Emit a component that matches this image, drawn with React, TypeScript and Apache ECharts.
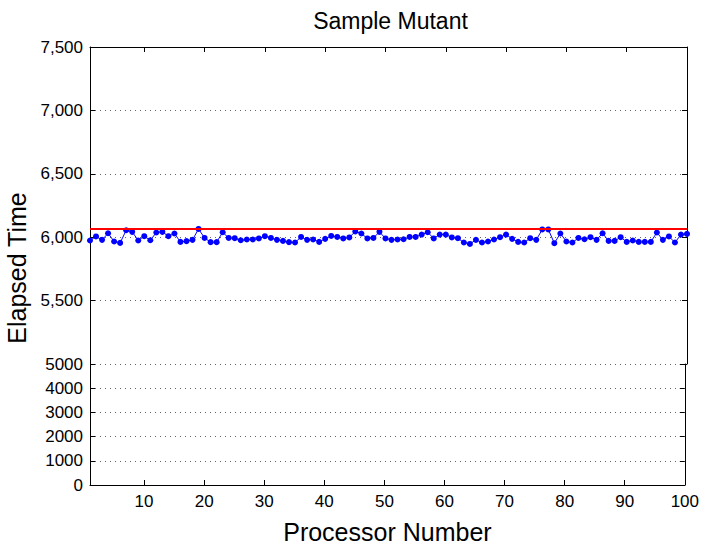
import React, { useEffect, useRef } from "react";
import * as echarts from "echarts";

const processorNumbers: number[] = Array.from({ length: 100 }, (_, i) => i + 1);

const elapsedTimes: number[] = [
  5974, 6006, 5979, 6031, 5966, 5955, 6055, 6042, 5974, 6008,
  5976, 6037, 6042, 6008, 6029, 5963, 5969, 5979, 6065, 5994,
  5961, 5961, 6039, 5994, 5992, 5976, 5982, 5982, 5990, 6008,
  5994, 5979, 5971, 5961, 5958, 6002, 5979, 5982, 5963, 5987,
  6010, 6002, 5990, 5998, 6045, 6029, 5990, 5994, 6042, 5990,
  5979, 5982, 5984, 6002, 6002, 6021, 6039, 5990, 6021, 6021,
  5998, 5992, 5958, 5947, 5979, 5958, 5966, 5982, 6000, 6021,
  5987, 5963, 5958, 5992, 5979, 6061, 6061, 5953, 6029, 5966,
  5958, 5994, 5984, 6000, 5979, 6031, 5971, 5971, 6000, 5963,
  5974, 5963, 5963, 5963, 6037, 5979, 6006, 5958, 6021, 6026,
];

const xTickValues: number[] = [10, 20, 30, 40, 50, 60, 70, 80, 90, 100];
const upperYTicks: number[] = [5500, 6000, 6500, 7000, 7500];
const lowerYTicks: number[] = [0, 1000, 2000, 3000, 4000, 5000];

const FONT = "'Liberation Sans', Arial, Helvetica, sans-serif";

export default function App() {
  const ref = useRef<HTMLDivElement>(null);

  useEffect(() => {
    if (!ref.current) return;
    const chart = echarts.init(ref.current, undefined, { renderer: "svg" });
    const maxVal = Math.max(...elapsedTimes);
    const gridLeft = 90;
    const gridRight = 15;
    const upperTop = 47;
    const upperHeight = 317;
    const lowerTop = upperTop + upperHeight;
    const lowerHeight = 125;

    const dotted = { type: [1, 4] as any, color: "#666", width: 1 };
    const axisLine = { show: true, lineStyle: { color: "#000", width: 1 } };
    const tick = { show: true, inside: true, length: 5, lineStyle: { color: "#000", width: 1 } };

    chart.setOption({
      animation: false,
      backgroundColor: "#fff",
      textStyle: { fontFamily: FONT },
      title: {
        text: "Sample Mutant",
        left: gridLeft + (702 - gridLeft - gridRight) / 2 - 3,
        textAlign: "center",
        top: 4,
        textStyle: { fontFamily: FONT, fontSize: 23, fontWeight: "normal", color: "#000" },
      },
      graphic: [
        {
          type: "text",
          x: 17,
          y: upperTop + (upperHeight + lowerHeight) / 2,
          rotation: Math.PI / 2,
          style: {
            text: "Elapsed Time",
            fontFamily: FONT,
            fontSize: 25,
            fill: "#000",
            textAlign: "center",
            textVerticalAlign: "middle",
          },
        },
      ],
      grid: [
        { left: gridLeft, right: gridRight, top: upperTop, height: upperHeight, containLabel: false },
        { left: gridLeft, right: gridRight, top: lowerTop, height: lowerHeight, containLabel: false },
      ],
      xAxis: [
        {
          type: "value",
          gridIndex: 0,
          position: "top",
          min: 1,
          max: 100,
          axisLine,
          axisTick: { ...tick, customValues: xTickValues },
          axisLabel: { show: false },
          splitLine: { show: false },
        },
        {
          type: "value",
          gridIndex: 1,
          position: "bottom",
          min: 1,
          max: 100,
          axisLine,
          axisTick: { ...tick, customValues: xTickValues },
          axisLabel: {
            customValues: xTickValues,
            fontFamily: FONT,
            fontSize: 17,
            color: "#000",
            margin: 8,
          },
          splitLine: { show: false },
          name: "Processor Number",
          nameLocation: "middle",
          nameGap: 34,
          nameTextStyle: { fontFamily: FONT, fontSize: 25, color: "#000" },
        },
      ],
      yAxis: [
        {
          type: "value",
          gridIndex: 0,
          min: 5000,
          max: 7500,
          interval: 500,
          axisLine,
          axisTick: { ...tick, customValues: upperYTicks },
          axisLabel: {
            customValues: upperYTicks,
            formatter: (v: number) => v.toLocaleString("en-US"),
            fontFamily: FONT,
            fontSize: 17,
            color: "#000",
            margin: 7,
          },
          splitLine: { show: true, lineStyle: dotted },
        },
        {
          type: "value",
          gridIndex: 0,
          position: "right",
          min: 5000,
          max: 7500,
          interval: 500,
          axisLine,
          axisTick: tick,
          axisLabel: { show: false },
          splitLine: { show: false },
        },
        {
          type: "value",
          gridIndex: 1,
          min: 0,
          max: 5000,
          interval: 1000,
          axisLine,
          axisTick: { ...tick, customValues: lowerYTicks },
          axisLabel: {
            customValues: lowerYTicks,
            formatter: (v: number) => String(v),
            fontFamily: FONT,
            fontSize: 17,
            color: "#000",
            margin: 7,
          },
          splitLine: { show: true, lineStyle: dotted },
        },
        {
          type: "value",
          gridIndex: 1,
          position: "right",
          min: 0,
          max: 5000,
          interval: 1000,
          axisLine,
          axisTick: tick,
          axisLabel: { show: false },
          splitLine: { show: false },
        },
      ],
      series: [
        {
          type: "line",
          xAxisIndex: 0,
          yAxisIndex: 0,
          data: processorNumbers.map((x, i) => [x, elapsedTimes[i]]),
          symbol: "circle",
          symbolSize: 6,
          showSymbol: true,
          lineStyle: { color: "#0000ff", width: 1 },
          itemStyle: { color: "#0000ff" },
          markLine: {
            silent: true,
            symbol: "none",
            label: { show: false },
            lineStyle: { color: "#ff0000", width: 2, type: "solid" },
            data: [{ yAxis: maxVal }],
          },
        },
      ],
    });
    return () => chart.dispose();
  }, []);

  return (
    <div
      ref={ref}
      style={{ position: "fixed", left: 0, top: 0, width: 702, height: 545, background: "#fff" }}
    />
  );
}
